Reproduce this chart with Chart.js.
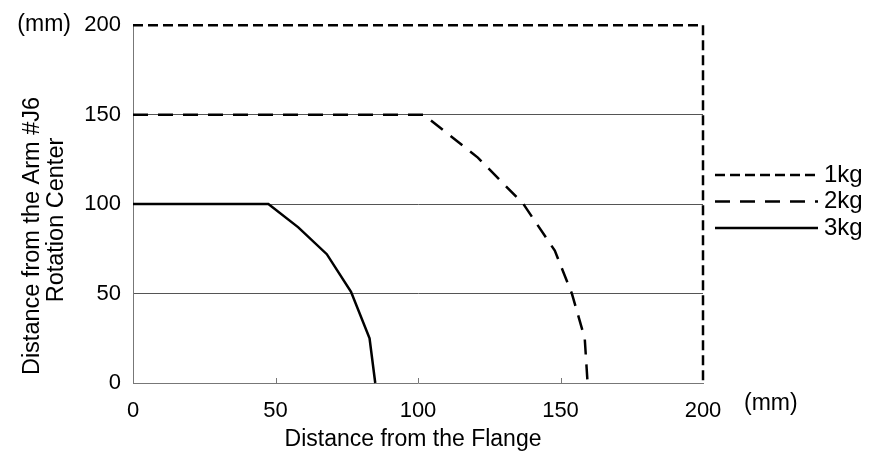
<!DOCTYPE html>
<html>
<head>
<meta charset="utf-8">
<title>Allowable offset</title>
<script src="https://cdn.jsdelivr.net/npm/chart.js@4/dist/chart.umd.min.js"></script>
<style>
  html, body { margin: 0; padding: 0; background: #fff; }
  #wrap { width: 874px; height: 455px; }
</style>
</head>
<body>
<div id="wrap"><canvas id="offsetChart" width="874" height="455"></canvas></div>
<script>
// 各负载的允许范围（mm）
const load1kgX = [0, 200, 200];
const load1kgY = [200, 200, 0];
const load2kgX = [0, 102, 121, 137, 148, 154, 158.5, 159.5];
const load2kgY = [150, 150, 126, 100, 74, 50, 25, 0];
const load3kgX = [0, 47.5, 58, 68, 76.5, 83, 85];
const load3kgY = [100, 100, 87, 72, 51, 25, 0];

const seriesLabels = ['1kg', '2kg', '3kg'];
const xTicks = [0, 50, 100, 150, 200];
const yTicks = [0, 50, 100, 150, 200];

const FONT_FAMILY = '"Liberation Sans", Arial, sans-serif';

// x/y 数组转成点
function toPoints(xs, ys) {
  return xs.map((x, i) => ({ x: x, y: ys[i] }));
}

// 标题、单位、图例、x 轴内侧刻度
const annotatePlugin = {
  id: 'annotate',
  afterDraw(chart) {
    const ctx = chart.ctx;
    const xs = chart.scales.x;
    const ys = chart.scales.y;
    ctx.save();

    // x 轴上的小刻度（朝内）
    ctx.strokeStyle = '#777';
    ctx.lineWidth = 1;
    xTicks.slice(1, -1).forEach(v => {
      const px = Math.round(xs.getPixelForValue(v)) + 0.5;
      ctx.beginPath();
      ctx.moveTo(px, ys.bottom);
      ctx.lineTo(px, ys.bottom - 5);
      ctx.stroke();
    });

    ctx.fillStyle = '#000';
    ctx.textBaseline = 'middle';

    // 单位
    ctx.font = '23px ' + FONT_FAMILY;
    ctx.textAlign = 'right';
    ctx.fillText('(mm)', 71, ys.top - 1);
    ctx.textAlign = 'left';
    ctx.fillText('(mm)', 744, 404);

    // x 轴标题
    ctx.font = '23px ' + FONT_FAMILY;
    ctx.textAlign = 'center';
    ctx.fillText('Distance from the Flange', 413, 440);

    // y 轴标题（两行）
    ctx.font = '23.5px ' + FONT_FAMILY;
    ctx.save();
    ctx.translate(33, 236);
    ctx.rotate(-Math.PI / 2);
    ctx.fillText('Distance from the Arm #J6', 0, 0);
    ctx.restore();
    ctx.save();
    ctx.translate(57, 220);
    ctx.rotate(-Math.PI / 2);
    ctx.fillText('Rotation Center', 0, 0);
    ctx.restore();

    // 图例
    ctx.font = '24px ' + FONT_FAMILY;
    ctx.textAlign = 'left';
    chart.data.datasets.forEach((ds, i) => {
      const y = 175 + i * 26.5;
      ctx.strokeStyle = ds.borderColor;
      ctx.lineWidth = ds.borderWidth;
      ctx.setLineDash(ds.borderDash || []);
      ctx.beginPath();
      ctx.moveTo(715, y);
      ctx.lineTo(818, y);
      ctx.stroke();
      ctx.setLineDash([]);
      ctx.fillText(ds.label, 824, y);
    });

    ctx.restore();
  }
};

function drawOffsetChart() {
  const ctx = document.getElementById('offsetChart').getContext('2d');
  const common = { borderColor: '#000', pointRadius: 0, fill: false, showLine: true, tension: 0, clip: false };

  new Chart(ctx, {
    type: 'scatter',
    data: {
      datasets: [
        { ...common, label: seriesLabels[0], data: toPoints(load1kgX, load1kgY), borderWidth: 2.5, borderDash: [10, 5] },
        { ...common, label: seriesLabels[1], data: toPoints(load2kgX, load2kgY), borderWidth: 2.5, borderDash: [15, 10] },
        { ...common, label: seriesLabels[2], data: toPoints(load3kgX, load3kgY), borderWidth: 2.5 }
      ]
    },
    options: {
      responsive: false,
      animation: false,
      layout: { padding: { left: 0, top: 24, right: 171, bottom: 0 } },
      plugins: { legend: { display: false }, tooltip: { enabled: false } },
      scales: {
        x: {
          type: 'linear', min: 0, max: 200,
          afterBuildTicks: s => { s.ticks = xTicks.map(v => ({ value: v })); },
          afterFit: s => { s.height = 72; },
          grid: { display: false, drawTicks: false },
          border: { display: true, color: '#777', width: 1 },
          ticks: { color: '#000', padding: 15, maxRotation: 0, font: { size: 22, family: FONT_FAMILY } }
        },
        y: {
          type: 'linear', min: 0, max: 200,
          afterBuildTicks: s => { s.ticks = yTicks.map(v => ({ value: v })); },
          afterFit: s => { s.width = 133; },
          grid: {
            drawTicks: false,
            lineWidth: 1,
            color: c => (c.tick && c.tick.value > 0 && c.tick.value < 200) ? '#555' : 'rgba(0,0,0,0)'
          },
          border: { display: true, color: '#777', width: 1 },
          ticks: { color: '#000', padding: 12, font: { size: 22, family: FONT_FAMILY } }
        }
      }
    },
    plugins: [annotatePlugin]
  });
}

window.addEventListener('load', drawOffsetChart);
</script>
</body>
</html>
